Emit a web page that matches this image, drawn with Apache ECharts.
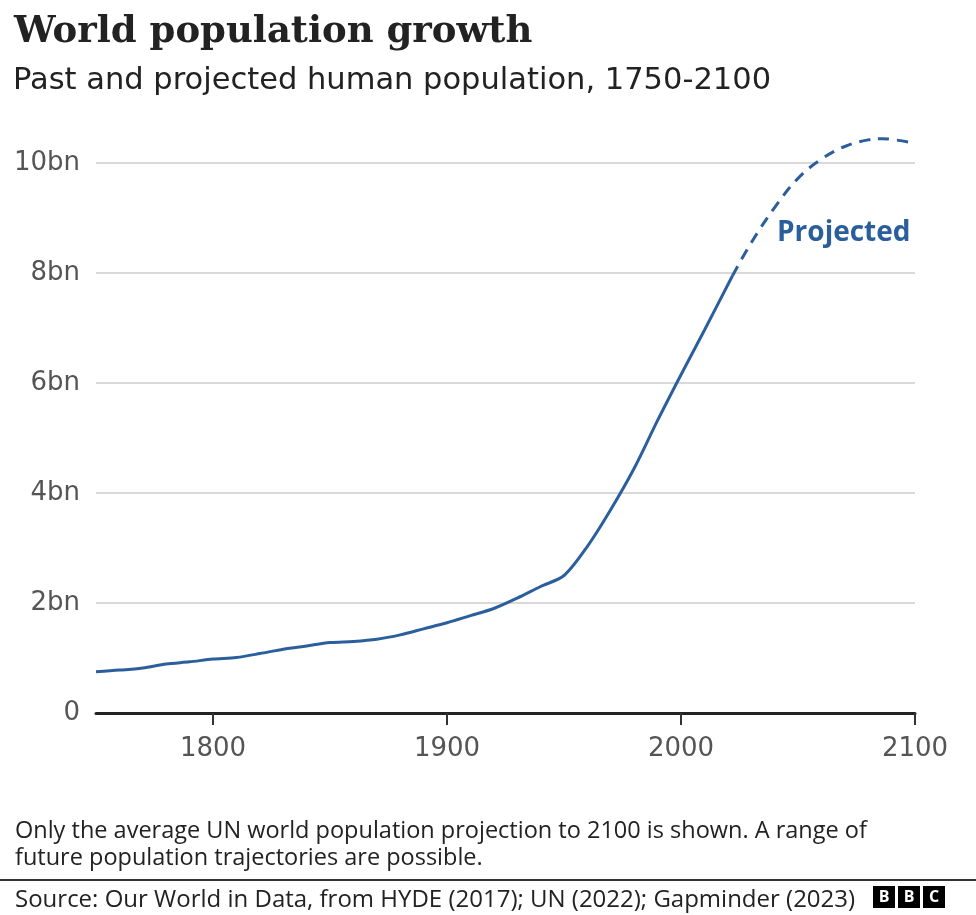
<!DOCTYPE html>
<html>
<head>
<meta charset="utf-8">
<script src="https://cdn.jsdelivr.net/npm/echarts@6/dist/echarts.min.js"></script>
<style>html,body{margin:0;padding:0;background:#fff}#c{width:976px;height:915px}</style>
</head>
<body>
<div id="c"></div>
<script>
const pastYears = [1750,1760,1770,1780,1790,1800,1810,1820,1830,1840,1850,1860,1870,1880,1890,1900,1910,1920,1930,1940,1950,1960,1970,1980,1990,2000,2010,2022];
const pastValues = [0.75,0.78,0.82,0.89,0.93,0.98,1.01,1.08,1.16,1.22,1.28,1.30,1.34,1.42,1.53,1.64,1.77,1.90,2.09,2.30,2.50,3.03,3.70,4.45,5.32,6.15,6.96,7.95];
const projYears = [2022,2030,2040,2050,2060,2070,2080,2086,2090,2100];
const projValues = [7.95,8.55,9.19,9.72,10.07,10.30,10.42,10.44,10.43,10.36];
const xTicks = [1800,1900,2000,2100];
const yTicks = [0,2,4,6,8,10];

const blue = '#2b5e9c';
const chart = echarts.init(document.getElementById('c'));
chart.setOption({
  animation: false,
  backgroundColor: '#fff',
  title: [
    {text: 'World population growth', left: 9, top: 9,
     textStyle: {fontFamily: 'DejaVu Serif', fontWeight: 'bold', fontSize: 37, color: '#222'}},
    {text: 'Past and projected human population, 1750-2100', left: 8, top: 61,
     textStyle: {fontFamily: 'DejaVu Sans', fontWeight: 'normal', fontSize: 30.5, color: '#222'}},
    {text: 'Only the average UN world population projection to 2100 is shown. A range of\nfuture population trajectories are possible.', left: 10, top: 813,
     textStyle: {fontFamily: 'Open Sans', fontWeight: 'normal', fontSize: 23.5, lineHeight: 27, color: '#222'}},
    {text: 'Source: Our World in Data, from HYDE (2017); UN (2022); Gapminder (2023)', left: 10, top: 883,
     textStyle: {fontFamily: 'Open Sans', fontWeight: 'normal', fontSize: 24, color: '#222'}}
  ],
  grid: {left: 96, right: 61, top: 163, bottom: 202},
  xAxis: {
    type: 'value', min: 1750, max: 2100, interval: 50,
    axisLine: {show: true, lineStyle: {color: '#222', width: 3}},
    axisTick: {show: true, length: 12, lineStyle: {color: '#333', width: 2},
      customValues: xTicks},
    axisLabel: {fontFamily: 'DejaVu Sans', fontSize: 26, color: '#555', margin: 23,
      customValues: xTicks, formatter: v => String(v)},
    splitLine: {show: false}
  },
  yAxis: {
    type: 'value', min: 0, max: 10, interval: 2,
    axisLine: {show: false}, axisTick: {show: false},
    axisLabel: {fontFamily: 'DejaVu Sans', fontSize: 26, color: '#555', margin: 16,
      customValues: yTicks, formatter: v => v === 0 ? '0' : v + 'bn'},
    splitLine: {lineStyle: {color: '#cccccc', width: 1.5}}
  },
  series: [
    {type: 'line', data: pastYears.map((y, i) => [y, pastValues[i]]), smooth: 0.3,
     showSymbol: false, clip: false, lineStyle: {color: blue, width: 3}},
    {type: 'line', data: projYears.map((y, i) => [y, projValues[i]]), smooth: 0.4,
     showSymbol: false, clip: false, lineStyle: {color: blue, width: 3, type: [11, 8]}}
  ],
  graphic: [
    {type: 'text', left: 777, top: 219, style: {text: 'Projected', fill: blue,
      font: 'bold 28px "Open Sans"'}},
    {type: 'line', shape: {x1: 0, y1: 880, x2: 976, y2: 880}, style: {stroke: '#333', lineWidth: 2}},
    {type: 'group', left: 873, top: 886, children: [
      {type: 'rect', shape: {x: 0, y: 0, width: 22, height: 22}, style: {fill: '#000'}},
      {type: 'text', x: 11, y: 11, style: {text: 'B', fill: '#fff', font: 'bold 16px "Open Sans"', align: 'center', verticalAlign: 'middle'}},
      {type: 'rect', shape: {x: 25, y: 0, width: 22, height: 22}, style: {fill: '#000'}},
      {type: 'text', x: 36, y: 11, style: {text: 'B', fill: '#fff', font: 'bold 16px "Open Sans"', align: 'center', verticalAlign: 'middle'}},
      {type: 'rect', shape: {x: 50, y: 0, width: 22, height: 22}, style: {fill: '#000'}},
      {type: 'text', x: 61, y: 11, style: {text: 'C', fill: '#fff', font: 'bold 16px "Open Sans"', align: 'center', verticalAlign: 'middle'}}
    ]}
  ]
});
</script>
</body>
</html>
